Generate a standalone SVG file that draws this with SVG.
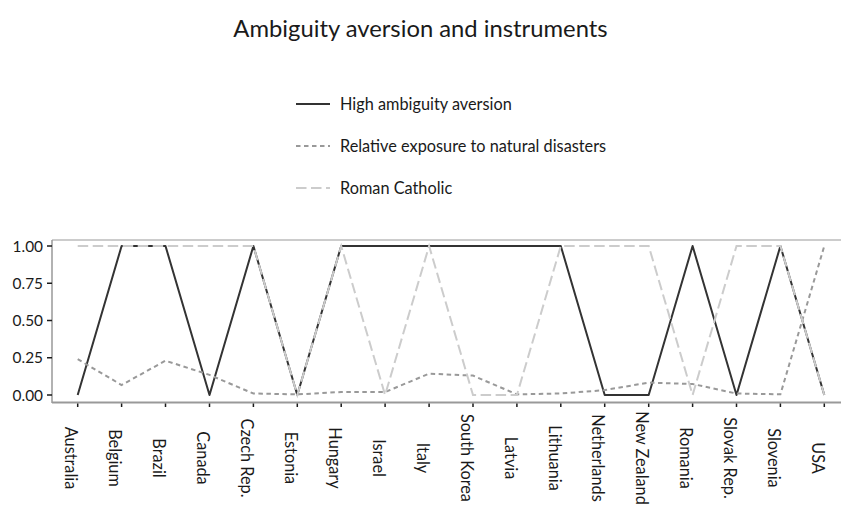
<svg xmlns="http://www.w3.org/2000/svg" width="841" height="507" viewBox="0 0 841 507">
<style>
text{font-family:"Lato","Liberation Sans",sans-serif;fill:#1a1a1a}
.title{font-size:23.8px}
.leg{font-size:16.3px}
.ylab{font-size:15.4px;text-anchor:end}
.xlab{font-size:16.3px;text-anchor:middle}
.s{fill:none;stroke:#333333;stroke-width:2;stroke-linejoin:round}
.d{fill:none;stroke:#999999;stroke-width:2;stroke-dasharray:4.5 3.5}
.c{fill:none;stroke:#cccccc;stroke-width:2;stroke-dasharray:10.5 4.5}
.tick{stroke:#1a1a1a;stroke-width:1.5}
</style>
<rect width="841" height="507" fill="#ffffff"/>
<text class="title" x="420.5" y="37" text-anchor="middle">Ambiguity aversion and instruments</text>
<g id="legend">
<line class="s" x1="296" y1="104" x2="330" y2="104"/>
<text class="leg" x="340" y="110">High ambiguity aversion</text>
<line class="d" x1="296" y1="146" x2="330" y2="146"/>
<text class="leg" x="340" y="152">Relative exposure to natural disasters</text>
<line class="c" x1="296" y1="188" x2="330" y2="188"/>
<text class="leg" x="340" y="194">Roman Catholic</text>
</g>
<g id="panel">
<line x1="52" y1="240" x2="841" y2="240" stroke="#999999" stroke-width="1"/>
<line x1="52" y1="240" x2="52" y2="403" stroke="#999999" stroke-width="1.5"/>
<line x1="52" y1="402.5" x2="841" y2="402.5" stroke="#999999" stroke-width="2"/>
</g>
<g id="yaxis">
<line class="tick" x1="47" y1="246" x2="52" y2="246"/>
<line class="tick" x1="47" y1="283.25" x2="52" y2="283.25"/>
<line class="tick" x1="47" y1="320.5" x2="52" y2="320.5"/>
<line class="tick" x1="47" y1="357.75" x2="52" y2="357.75"/>
<line class="tick" x1="47" y1="395" x2="52" y2="395"/>
<text class="ylab" x="43" y="251.5">1.00</text>
<text class="ylab" x="43" y="288.75">0.75</text>
<text class="ylab" x="43" y="326">0.50</text>
<text class="ylab" x="43" y="363.25">0.25</text>
<text class="ylab" x="43" y="400.5">0.00</text>
</g>
<g id="xaxis">
<path class="tick" d="M77.7 403.5v3.5M121.6 403.5v3.5M165.5 403.5v3.5M209.5 403.5v3.5M253.4 403.5v3.5M297.3 403.5v3.5M341.2 403.5v3.5M385.1 403.5v3.5M429.1 403.5v3.5M473 403.5v3.5M516.9 403.5v3.5M560.8 403.5v3.5M604.7 403.5v3.5M648.7 403.5v3.5M692.6 403.5v3.5M736.5 403.5v3.5M780.4 403.5v3.5M824.3 403.5v3.5"/>
<text class="xlab" transform="translate(65.4,458) rotate(90)">Australia</text>
<text class="xlab" transform="translate(109.3,458) rotate(90)">Belgium</text>
<text class="xlab" transform="translate(153.2,458) rotate(90)">Brazil</text>
<text class="xlab" transform="translate(197.2,458) rotate(90)">Canada</text>
<text class="xlab" transform="translate(241.1,458) rotate(90)">Czech Rep.</text>
<text class="xlab" transform="translate(285,458) rotate(90)">Estonia</text>
<text class="xlab" transform="translate(328.9,458) rotate(90)">Hungary</text>
<text class="xlab" transform="translate(372.8,458) rotate(90)">Israel</text>
<text class="xlab" transform="translate(416.8,458) rotate(90)">Italy</text>
<text class="xlab" transform="translate(460.7,458) rotate(90)">South Korea</text>
<text class="xlab" transform="translate(504.6,458) rotate(90)">Latvia</text>
<text class="xlab" transform="translate(548.5,458) rotate(90)">Lithuania</text>
<text class="xlab" transform="translate(592.4,458) rotate(90)">Netherlands</text>
<text class="xlab" transform="translate(636.4,458) rotate(90)">New Zealand</text>
<text class="xlab" transform="translate(680.3,458) rotate(90)">Romania</text>
<text class="xlab" transform="translate(724.2,458) rotate(90)">Slovak Rep.</text>
<text class="xlab" transform="translate(768.1,458) rotate(90)">Slovenia</text>
<text class="xlab" transform="translate(812,458) rotate(90)">USA</text>
</g>
<g id="series">
<polyline id="high-ambiguity" class="s" points="77.7,395 121.6,246 165.5,246 209.5,395 253.4,246 297.3,395 341.2,246 385.1,246 429.1,246 473,246 516.9,246 560.8,246 604.7,395 648.7,395 692.6,246 736.5,395 780.4,246 824.3,395"/>
<polyline id="natural-disasters" class="d" points="77.7,359.2 121.6,385 165.5,360.7 209.5,374.9 253.4,393.5 297.3,394.4 341.2,392 385.1,392 429.1,373.7 473,375.6 516.9,394.4 560.8,393.5 604.7,390.1 648.7,382.6 692.6,384 736.5,393.5 780.4,394.3 824.3,246"/>
<polyline id="roman-catholic" class="c" points="77.7,246 121.6,246 165.5,246 209.5,246 253.4,246 297.3,395 341.2,246 385.1,395 429.1,246 473,395 516.9,395 560.8,246 604.7,246 648.7,246 692.6,395 736.5,246 780.4,246 824.3,395"/>
</g>
</svg>
